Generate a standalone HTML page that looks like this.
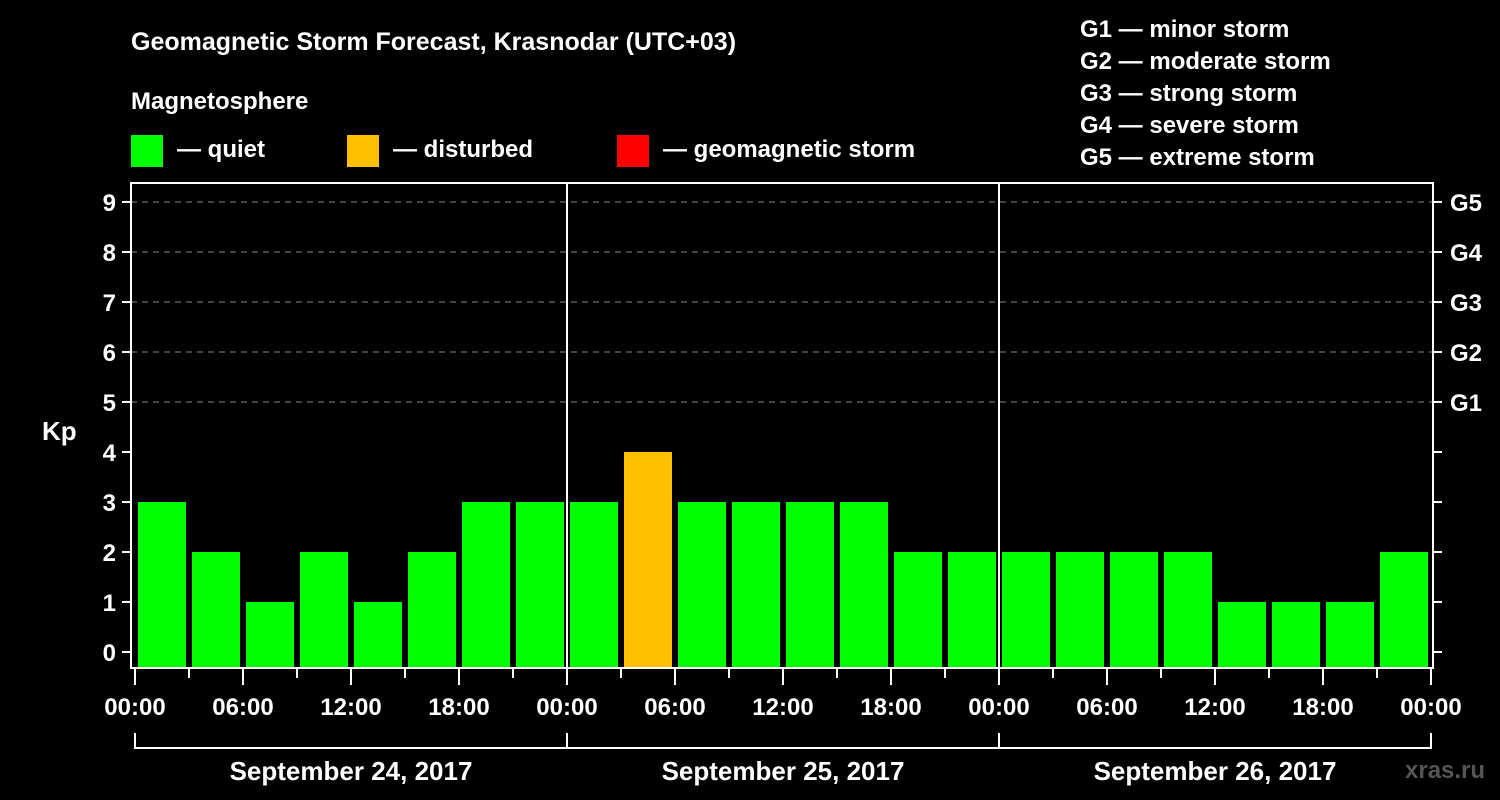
<!DOCTYPE html>
<html><head><meta charset="utf-8"><style>
body{margin:0;background:#000;}
svg{display:block;font-family:"Liberation Sans",Arial,sans-serif;font-weight:bold;}
</style></head><body>
<svg width="1500" height="800" viewBox="0 0 1500 800" id="chart">
<rect width="1500" height="800" fill="#000"/>
<text x="131" y="50" font-size="25" fill="#fff">Geomagnetic Storm Forecast, Krasnodar (UTC+03)</text>
<text x="131" y="109" font-size="24" fill="#fff">Magnetosphere</text>
<g><rect x="131" y="135" width="32" height="32" fill="#00ff00"/><text x="177" y="157" font-size="24" fill="#fff">— quiet</text></g>
<g><rect x="347" y="135" width="32" height="32" fill="#ffc000"/><text x="393" y="157" font-size="24" fill="#fff">— disturbed</text></g>
<g><rect x="617" y="135" width="32" height="32" fill="#ff0000"/><text x="663" y="157" font-size="24" fill="#fff">— geomagnetic storm</text></g>
<g font-size="24" fill="#fff">
<text x="1080" y="37">G1 — minor storm</text>
<text x="1080" y="69">G2 — moderate storm</text>
<text x="1080" y="101">G3 — strong storm</text>
<text x="1080" y="133">G4 — severe storm</text>
<text x="1080" y="165">G5 — extreme storm</text>
</g>
<text x="42" y="440" font-size="26" fill="#fff">Kp</text>
<text x="1405" y="778" font-size="24" fill="#555">xras.ru</text>
<g id="grid"></g><g id="bars"></g><g id="axes"></g>
</svg>
<script>
const kpValues=[3,2,1,2,1,2,3,3, 3,4,3,3,3,3,2,2, 2,2,2,2,1,1,1,2];
const yTicks=[0,1,2,3,4,5,6,7,8,9];
const gLabels=[[5,'G1'],[6,'G2'],[7,'G3'],[8,'G4'],[9,'G5']];
const dayLabels=['September 24, 2017','September 25, 2017','September 26, 2017'];
const hourLabels=['00:00','06:00','12:00','18:00'];
const NS='http://www.w3.org/2000/svg';
const L=131,R=1433,T=183,B=668,X0=135;
const y=v=>652-50*v;
const xh=h=>X0+18*h;
function mk(p,tag,a){const e=document.createElementNS(NS,tag);for(const k in a)e.setAttribute(k,a[k]);document.getElementById(p).appendChild(e);return e;}
yTicks.forEach(v=>{
 if(v>=5){const g=mk('grid','line',{x1:L,x2:R,y1:y(v),y2:y(v),stroke:'#888','stroke-dasharray':'6,5','stroke-width':1});
 
 }
 const t=mk('axes','line',{x1:122,x2:L,y1:y(v),y2:y(v),stroke:'#fff','stroke-width':2});
 
 
 const t2=mk('axes','line',{x1:R,x2:1442,y1:y(v),y2:y(v),stroke:'#fff','stroke-width':2});
 
 
 const l=mk('axes','text',{x:116,y:y(v)+9,'font-size':24,fill:'#fff','text-anchor':'end'});l.textContent=v;
 
 
});
gLabels.forEach(([v,s])=>{const l=mk('axes','text',{x:1450,y:y(v)+9,'font-size':24,fill:'#fff'});l.textContent=s;
 
 });
kpValues.forEach((v,i)=>{
 const b=mk('bars','rect',{x:xh(i*3)+3,y:y(v),width:48,height:B-1-y(v),fill:v>=5?'#ff0000':v>=4?'#ffc000':'#00ff00'});
 
 
});
mk('axes','rect',{x:L,y:T,width:R-L,height:B-T,fill:'none',stroke:'#fff','stroke-width':2});
for(let d=1;d<3;d++){const s=mk('axes','line',{x1:xh(d*24),x2:xh(d*24),y1:T,y2:B,stroke:'#fff','stroke-width':2});
 
 }
for(let h=0;h<=72;h+=3){
 const maj=h%6==0;
 const t=mk('axes','line',{x1:xh(h),x2:xh(h),y1:B,y2:maj?685:678,stroke:'#fff','stroke-width':2});
 
 
 if(maj){const l=mk('axes','text',{x:xh(h),y:715,'font-size':24,fill:'#fff','text-anchor':'middle'});
 l.textContent=hourLabels[(h/6)%4];
 
 }
}
dayLabels.forEach((s,d)=>{
 const p=mk('axes','path',{d:`M${xh(d*24)},733V748H${xh(d*24+24)}V733`,fill:'none',stroke:'#fff','stroke-width':2});
 
 
 const l=mk('axes','text',{x:xh(d*24+12),y:780,'font-size':26,fill:'#fff','text-anchor':'middle'});l.textContent=s;
 
 
});
</script>
</body></html>
